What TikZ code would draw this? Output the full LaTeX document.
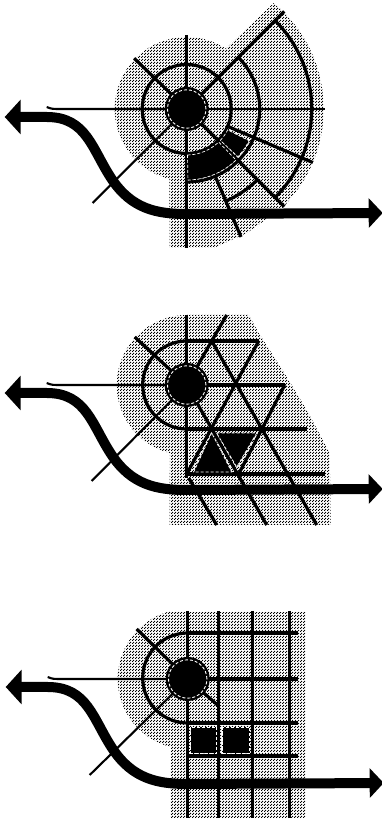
\documentclass[tikz,border=0pt]{standalone}
\usepackage{tikz}
\usetikzlibrary{arrows.meta,patterns}
\newcommand{\corFill}{black}
\newcommand{\corRoad}{black}
\pgfdeclarepatternformonly{halftone}{\pgfqpoint{0pt}{0pt}}{\pgfqpoint{3pt}{3pt}}{\pgfqpoint{3pt}{3pt}}{
  \pgfpathrectangle{\pgfqpoint{0pt}{0pt}}{\pgfqpoint{1.45pt}{1.45pt}}
  \pgfpathrectangle{\pgfqpoint{1.5pt}{1.5pt}}{\pgfqpoint{1.45pt}{1.45pt}}
  \pgfusepath{fill}
}
\tikzset{
  stipple/.style={pattern=halftone,pattern color=\corFill},
  street/.style={line width=3.2pt},
  thinstreet/.style={line width=2.1pt},
  block/.style={fill=black,draw=white,line width=0.7pt,densely dashed},
  road/.style={line width=10pt,color=\corRoad,{Triangle[length=16pt,width=34pt]}-{Triangle[length=14pt,width=29pt]}}
}
% centre disc, feeder line and through road
\newcommand{\hubDisc}{
  \draw [thinstreet] (-140,2) .. controls (-135,0) .. (-125,0) -- (-21,0);
  \fill [black] (0,0) circle (22);
  \draw [white, line width=0.9pt, densely dashed] (0,0) circle (19.2);
}
\newcommand{\throughRoad}{
  \draw [road] (-182,-8) -- (-140,-8) .. controls (-100,-8) and (-95,-40) .. (-75,-70)
     .. controls (-55,-100) and (-30,-105) .. (0,-105) -- (196,-104);
}
\begin{document}
\begin{tikzpicture}[x=1pt,y=1pt]
  \useasboundingbox (0,0) rectangle (382,820);

  % panel 1 polar
  \begin{scope}[shift={(186.7,711)}]
    \fill [stipple] (256:72) arc (256:57:72) -- (50.6:137) arc (50.6:-36:137) -- (97,-98) -- (60,-124) -- (27,-139) -- (-17,-139) -- cycle;
    % spokes
    \draw [street] (0,74) -- (0,-139);
    \draw [street] (0,0) -- (136:73);
    \draw [street] (0,0) -- (45:138);
    \draw [thinstreet] (0,0) -- (225:133);
    \draw [street] (0,0) -- (-45:138);
    \draw [thinstreet] (0,0) -- (138,0);
    \draw [street] (-23:44) -- (-23:137);
    \draw [street] (-67:71) -- (-67:139);
    % rings
    \draw [street] (0,0) circle (44.5);
    \draw [street] (45:73) arc (45:-90:73);
    \draw [street] (45:125) arc (45:-45:125);
    \draw [street] (-67:100) arc (-67:-45:100);
    % black sectors
    \filldraw [block] (-89:46) arc (-89:-46:46) -- (-46:71) arc (-46:-89:71) -- cycle;
    \filldraw [block] (-43:46) arc (-43:-27:46) -- (-27:70) arc (-27:-43:70) -- cycle;
    \hubDisc
    \throughRoad
  \end{scope}

  % panel 2 triangular
  \begin{scope}[shift={(186.7,435)}]
    \fill [stipple] (256:70) arc (256:90:70) -- (62,70) -- (72,52) -- (100,8) -- (120,-25) -- (143,-68) -- (144,-140) -- (-17,-140) -- cycle;
    % spokes
    \draw [street] (0,70) -- (0,-93);
    \draw [street] (0,0) -- (-52,48);
    \draw [thinstreet] (0,0) -- (-95,-96);
    \draw [street] (40,70) -- (25,44) -- (0,0);
    % rows
    \draw [street] (0,44) arc (90:270:44);
    \draw [street] (0,44) -- (72,44);
    \draw [street] (0,0) -- (98,0);
    \draw [street] (0,-44) -- (120,-44);
    \draw [street] (0,-89) -- (138,-89);
    % falling lines
    \draw [street] (25,44) -- (130,-140);
    \draw [street] (0,0) -- (80,-140);
    \draw [street] (2,-93) -- (30,-140);
    % rising lines
    \draw [street] (72,44) -- (0,-89);
    \draw [street] (98,0) -- (52,-89);
    % black triangles
    \filldraw [block] (25,-48) -- (7,-87) -- (45,-87) -- cycle;
    \filldraw [block] (30,-48) -- (70,-48) -- (50,-82) -- cycle;
    \hubDisc
    \throughRoad
  \end{scope}

  % panel 3 square
  \begin{scope}[shift={(187.7,141)}]
    \fill [stipple] (256:70) arc (256:105:70) -- (-17,67) -- (118,67) -- (118,-139) -- (-17,-139) -- cycle;
    % columns
    \draw [street] (0,68) -- (0,-139);
    \draw [street] (31,68) -- (31,-139);
    \draw [street] (65,68) -- (65,-139);
    \draw [street] (102,68) -- (102,-139);
    % spokes
    \draw [street] (0,0) -- (-51,50);
    \draw [thinstreet] (0,0) -- (-98,-96);
    \draw [street] (0,0) -- (31,-27);
    % rows
    \draw [street] (0,46) arc (90:270:45);
    \draw [street] (0,46) -- (110,46);
    \draw [street] (0,0) -- (110,0);
    \draw [street] (0,-44) -- (110,-44);
    \draw [street] (0,-77) -- (110,-77);
    % black squares
    \filldraw [block] (3,-48) rectangle (29,-74);
    \filldraw [block] (35,-48) rectangle (62,-74);
    \hubDisc
    \throughRoad
  \end{scope}
\end{tikzpicture}
\end{document}
